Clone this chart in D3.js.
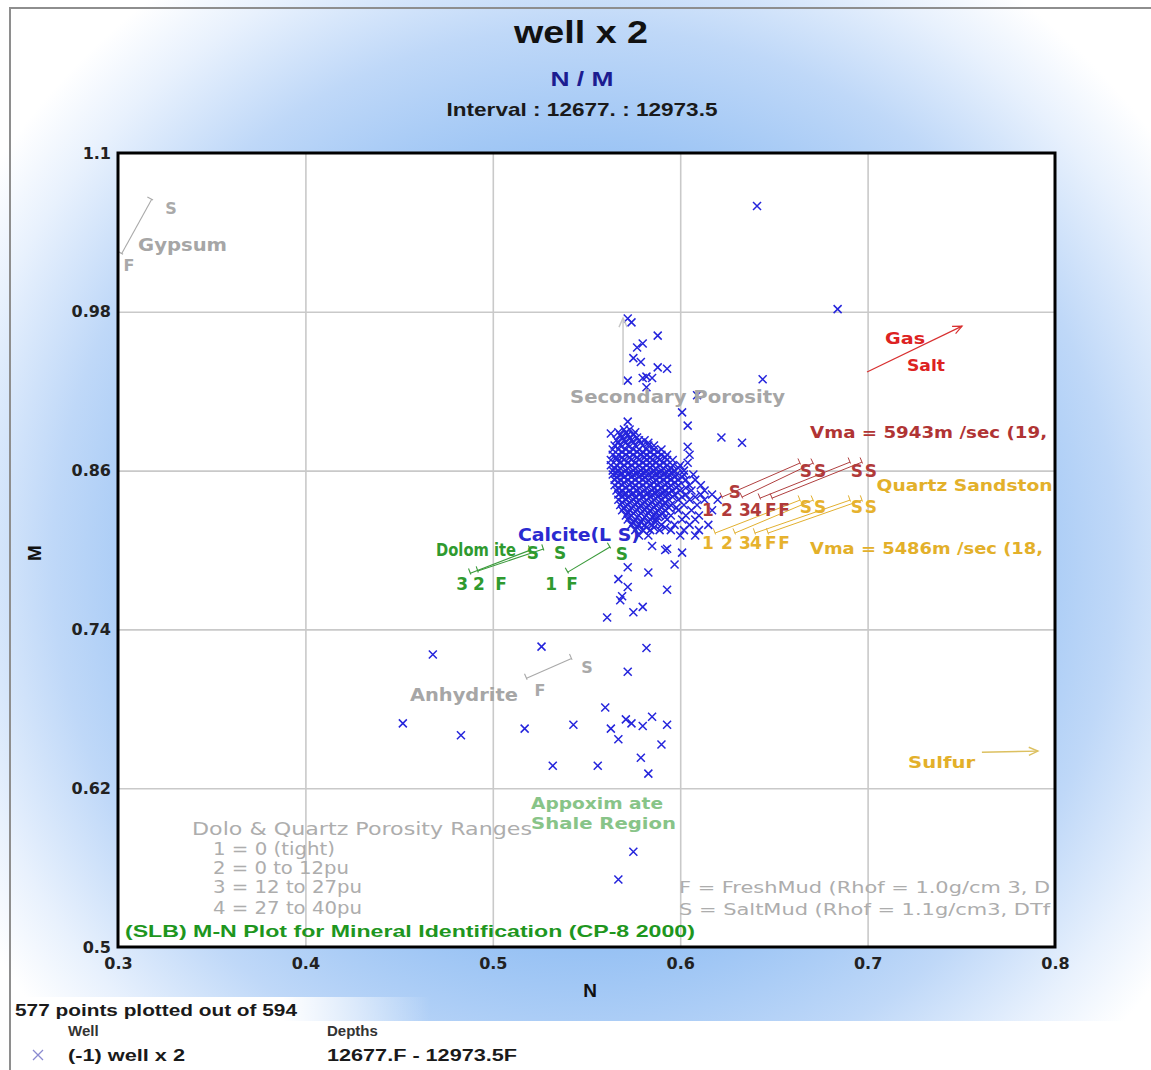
<!DOCTYPE html>
<html>
<head>
<meta charset="utf-8">
<script src="https://cdn.jsdelivr.net/npm/d3@7"></script>
<style>
  html, body { margin: 0; padding: 0; background: #ffffff; }
  svg { display: block; }
</style>
</head>
<body>
<svg id="chart" width="1151" height="1070"></svg>
<script>
// ---------------- data ----------------
const xTicks = [0.3, 0.4, 0.5, 0.6, 0.7, 0.8];
const yTicks = [0.5, 0.62, 0.74, 0.86, 0.98, 1.1];
const xTickLabels = ["0.3", "0.4", "0.5", "0.6", "0.7", "0.8"];
const yTickLabels = ["0.5", "0.62", "0.74", "0.86", "0.98", "1.1"];

// Well x 2 samples, [N, M] — scattered readings
const scatterPoints = [
  [0.641, 1.060], [0.684, 0.982], [0.644, 0.929], [0.572, 0.975], [0.574, 0.972],
  [0.588, 0.962], [0.580, 0.956], [0.577, 0.953], [0.575, 0.945], [0.579, 0.942],
  [0.588, 0.938], [0.593, 0.937], [0.582, 0.931], [0.585, 0.930], [0.580, 0.930],
  [0.572, 0.928], [0.582, 0.923], [0.609, 0.917], [0.601, 0.904], [0.604, 0.894],
  [0.622, 0.885], [0.633, 0.881], [0.563, 0.888], [0.572, 0.897], [0.604, 0.878],
  [0.605, 0.872], [0.604, 0.866],
  [0.592, 0.800], [0.601, 0.798], [0.597, 0.789], [0.572, 0.787], [0.583, 0.783],
  [0.567, 0.778], [0.572, 0.772], [0.593, 0.770], [0.569, 0.765], [0.568, 0.762],
  [0.580, 0.757], [0.575, 0.753], [0.561, 0.749], [0.582, 0.726], [0.572, 0.708],
  [0.468, 0.721], [0.452, 0.669], [0.483, 0.660], [0.526, 0.727], [0.560, 0.681],
  [0.517, 0.665], [0.543, 0.668], [0.571, 0.672], [0.574, 0.669], [0.580, 0.667],
  [0.585, 0.674], [0.593, 0.668], [0.563, 0.665], [0.567, 0.657], [0.590, 0.653],
  [0.532, 0.637], [0.556, 0.637], [0.579, 0.643], [0.583, 0.631], [0.575, 0.572],
  [0.567, 0.551], [0.593, 0.801], [0.585, 0.803]
];

// Dense limestone cluster, listed row by row: [M, [N values]]
const clusterRows = [
  [0.891, [0.570, 0.573]],
  [0.889, [0.567, 0.571, 0.576]],
  [0.887, [0.568, 0.572, 0.575]],
  [0.885, [0.569, 0.573, 0.577]],
  [0.883, [0.566, 0.570, 0.574, 0.578, 0.581]],
  [0.881, [0.567, 0.571, 0.575, 0.579, 0.583]],
  [0.879, [0.565, 0.568, 0.572, 0.576, 0.580, 0.583, 0.586]],
  [0.876, [0.564, 0.567, 0.571, 0.575, 0.578, 0.582, 0.586, 0.590]],
  [0.874, [0.569, 0.573, 0.577, 0.580, 0.584, 0.588]],
  [0.872, [0.564, 0.567, 0.571, 0.575, 0.579, 0.582, 0.586, 0.590, 0.593]],
  [0.870, [0.566, 0.569, 0.573, 0.577, 0.581, 0.584, 0.588, 0.592]],
  [0.868, [0.563, 0.566, 0.570, 0.574, 0.578, 0.582, 0.585, 0.589, 0.593, 0.596]],
  [0.866, [0.568, 0.572, 0.576, 0.580, 0.584, 0.587, 0.591]],
  [0.864, [0.563, 0.566, 0.570, 0.574, 0.578, 0.582, 0.585, 0.589, 0.593, 0.596, 0.600]],
  [0.862, [0.565, 0.568, 0.572, 0.576, 0.580, 0.584, 0.587, 0.591, 0.595, 0.599]],
  [0.860, [0.564, 0.567, 0.571, 0.575, 0.579, 0.582, 0.586, 0.590, 0.594, 0.597, 0.602]],
  [0.858, [0.566, 0.569, 0.573, 0.577, 0.581, 0.585, 0.589, 0.592, 0.596]],
  [0.857, [0.564, 0.568, 0.572, 0.575, 0.579, 0.583, 0.587, 0.591, 0.594, 0.598, 0.602, 0.607]],
  [0.855, [0.566, 0.570, 0.574, 0.578, 0.581, 0.585, 0.589, 0.593, 0.597, 0.601]],
  [0.853, [0.565, 0.568, 0.572, 0.576, 0.580, 0.583, 0.587, 0.591, 0.595, 0.599, 0.603, 0.608]],
  [0.851, [0.567, 0.570, 0.574, 0.578, 0.582, 0.586, 0.589, 0.593, 0.597]],
  [0.849, [0.565, 0.569, 0.573, 0.576, 0.580, 0.584, 0.588, 0.592, 0.595, 0.599, 0.605, 0.611]],
  [0.847, [0.567, 0.571, 0.575, 0.578, 0.582, 0.586, 0.590, 0.594, 0.598, 0.603]],
  [0.845, [0.566, 0.569, 0.573, 0.577, 0.581, 0.585, 0.588, 0.592, 0.596, 0.600, 0.606, 0.613]],
  [0.843, [0.568, 0.571, 0.575, 0.579, 0.583, 0.587, 0.591, 0.594]],
  [0.842, [0.567, 0.570, 0.574, 0.578, 0.582, 0.585, 0.589, 0.593, 0.597, 0.603, 0.611, 0.617]],
  [0.840, [0.569, 0.572, 0.576, 0.580, 0.584, 0.588, 0.592, 0.596, 0.601, 0.608]],
  [0.838, [0.567, 0.571, 0.575, 0.578, 0.582, 0.586, 0.590, 0.594, 0.599, 0.605, 0.613, 0.620]],
  [0.836, [0.569, 0.573, 0.577, 0.581, 0.585, 0.589, 0.592]],
  [0.834, [0.568, 0.572, 0.576, 0.579, 0.583, 0.587, 0.591, 0.595, 0.602, 0.609]],
  [0.832, [0.570, 0.574, 0.578, 0.582, 0.586, 0.590, 0.594, 0.598]],
  [0.830, [0.569, 0.573, 0.577, 0.581, 0.584, 0.588, 0.592, 0.599, 0.606, 0.617]],
  [0.828, [0.572, 0.575, 0.579, 0.583, 0.587, 0.591]],
  [0.826, [0.571, 0.574, 0.578, 0.582, 0.586, 0.589, 0.595, 0.603, 0.610]],
  [0.825, [0.573, 0.577, 0.581, 0.585, 0.588, 0.592]],
  [0.823, [0.572, 0.576, 0.580, 0.584, 0.587, 0.593, 0.601, 0.608]],
  [0.821, [0.575, 0.579, 0.583, 0.587]],
  [0.819, [0.574, 0.578, 0.581, 0.585, 0.590, 0.597, 0.605, 0.615]],
  [0.817, [0.577, 0.582, 0.586, 0.592]],
  [0.815, [0.576, 0.580, 0.584, 0.589, 0.595, 0.602, 0.610]],
  [0.811, [0.578, 0.583, 0.600, 0.608]]
];

// Mineral reference lines, [N1, M1, N2, M2] (fresh-mud end -> salt-mud end)
const gypsumLines = [[0.302, 1.024, 0.318, 1.065]];
const anhydriteLines = [[0.518, 0.703, 0.542, 0.718]];
const dolomiteLines = [
  [0.488, 0.7825, 0.520, 0.7999],
  [0.492, 0.7841, 0.527, 0.8007],
  [0.540, 0.7833, 0.5625, 0.8022]
];
const sandstone5943Lines = [
  [0.6223, 0.8400, 0.6639, 0.8657],
  [0.6330, 0.8400, 0.6709, 0.8657],
  [0.6426, 0.8392, 0.6906, 0.8664],
  [0.6490, 0.8392, 0.6970, 0.8664]
];
const sandstone5486Lines = [
  [0.6186, 0.8128, 0.6639, 0.8377],
  [0.6292, 0.8128, 0.6709, 0.8377],
  [0.6399, 0.8128, 0.6906, 0.8377],
  [0.6469, 0.8128, 0.6970, 0.8377]
];
const secondaryPorosityArrow = [[0.5695, 0.9246, 0.5695, 0.9753]];
const gasSaltArrow = [[0.6997, 0.9345, 0.7504, 0.9692]];
const sulfurArrow = [[0.7610, 0.6472, 0.7909, 0.6480]];

// End labels, [N, M, text]
const gypsumMarks = [[0.3283, 1.0584, "S"], [0.3059, 1.0153, "F"]];
const anhydriteMarks = [[0.5252, 0.6941, "F"], [0.5503, 0.7115, "S"]];
const dolomiteMarks = [
  [0.5214, 0.7977, "S"], [0.5359, 0.7977, "S"], [0.5689, 0.7972, "S"],
  [0.4836, 0.7742, "3"], [0.4926, 0.7742, "2"], [0.5044, 0.7742, "F"],
  [0.5311, 0.7742, "1"], [0.5423, 0.7742, "F"]
];
const sandstone5943Marks = [
  [0.6292, 0.8440, "S"],
  [0.6148, 0.8302, "1"], [0.6249, 0.8302, "2"], [0.6346, 0.8302, "3"],
  [0.6404, 0.8302, "4"], [0.6484, 0.8302, "F"], [0.6554, 0.8302, "F"],
  [0.6671, 0.8595, "S"], [0.6746, 0.8595, "S"], [0.6943, 0.8595, "S"], [0.7018, 0.8595, "S"]
];
const sandstone5486Marks = [
  [0.6148, 0.8052, "1"], [0.6249, 0.8052, "2"], [0.6346, 0.8052, "3"],
  [0.6404, 0.8052, "4"], [0.6484, 0.8052, "F"], [0.6554, 0.8052, "F"],
  [0.6671, 0.8324, "S"], [0.6746, 0.8324, "S"], [0.6943, 0.8324, "S"], [0.7018, 0.8324, "S"]
];

// Region / mineral names, [N, M, text] (left-aligned)
const grayNames = [
  [0.3107, 1.0305, "Gypsum"],
  [0.4558, 0.6903, "Anhydrite"],
  [0.5412, 0.9156, "Secondary Porosity"]
];
const redNames = [[0.7093, 0.9602, "Gas"], [0.7210, 0.9398, "Salt"]];
const darkRedNames = [[0.6693, 0.8891, "Vma = 5943m /sec (19,"]];
const goldNames = [
  [0.7048, 0.8488, "Quartz Sandston"],
  [0.6693, 0.8014, "Vma = 5486m /sec (18,"],
  [0.7216, 0.6397, "Sulfur"]
];
const blueNames = [[0.5134, 0.8118, "Calcite(L S)"]];
const greenNames = [[0.4697, 0.7999, "Dolom ite"]];
const shaleNames = [[0.5204, 0.6087, "Appoxim ate"], [0.5204, 0.5936, "Shale Region"]];
const rangeNotes = [
  [0.3395, 0.5890, "Dolo & Quartz Porosity Ranges"],
  [0.3507, 0.5739, "1 = 0 (tight)"],
  [0.3507, 0.5596, "2 = 0 to 12pu"],
  [0.3507, 0.5452, "3 = 12 to 27pu"],
  [0.3507, 0.5293, "4 = 27 to 40pu"]
];
const mudNotes = [
  [0.5994, 0.5452, "F = FreshMud (Rhof = 1.0g/cm 3, D"],
  [0.5994, 0.5286, "S = SaltMud (Rhof = 1.1g/cm3, DTf"]
];
const sourceNote = [[0.3037, 0.5119, "(SLB) M-N Plot for Mineral Identification (CP-8 2000)"]];

const titleText = "well x 2";
const subtitleText = "N / M";
const intervalText = "Interval : 12677. : 12973.5";
const countText = "577 points plotted out of 594";
const legendHeaders = ["Well", "Depths"];
const legendRow = ["(-1) well x 2", "12677.F - 12973.5F"];

// ---------------- layout & styles ----------------
const W = 1151, H = 1070;
const plot = { left: 118, right: 1055, top: 153, bottom: 947 };
const annoFont = "'DejaVu Sans', Verdana, sans-serif";
const headFont = "'Liberation Sans', Arial, sans-serif";
const narrowFont = "'Liberation Sans Narrow', 'Liberation Sans', Arial, sans-serif";

// drawn widths of the longer labels, px
const labelWidth = {
  "Gypsum": 89, "Anhydrite": 108, "Secondary Porosity": 215,
  "Gas": 40, "Salt": 38,
  "Vma = 5943m /sec (19,": 237, "Quartz Sandston": 176, "Vma = 5486m /sec (18,": 233,
  "Sulfur": 67, "Calcite(L S)": 122, "Dolom ite": 80,
  "Appoxim ate": 132, "Shale Region": 145,
  "Dolo & Quartz Porosity Ranges": 340, "1 = 0 (tight)": 122, "2 = 0 to 12pu": 136,
  "3 = 12 to 27pu": 149, "4 = 27 to 40pu": 149,
  "F = FreshMud (Rhof = 1.0g/cm 3, D": 371, "S = SaltMud (Rhof = 1.1g/cm3, DTf": 371,
  "(SLB) M-N Plot for Mineral Identification (CP-8 2000)": 570
};

const x = d3.scaleLinear().domain([0.3, 0.8]).range([plot.left, plot.right]);
const y = d3.scaleLinear().domain([0.5, 1.1]).range([plot.bottom, plot.top]);

const svg = d3.select("#chart");
const defs = svg.append("defs");

const grad = defs.append("radialGradient")
  .attr("id", "bgGrad").attr("gradientUnits", "userSpaceOnUse")
  .attr("cx", 585).attr("cy", 560).attr("r", 710);
[[0, "#7eb0f0"], [0.55, "#98c2f4"], [0.75, "#bfd8f8"], [0.9, "#e8f1fd"], [1, "#ffffff"]]
  .forEach(([o, c]) => grad.append("stop").attr("offset", o).attr("stop-color", c));

const fade = defs.append("linearGradient").attr("id", "legendFade")
  .attr("gradientUnits", "userSpaceOnUse").attr("x1", 11).attr("x2", 430).attr("y1", 0).attr("y2", 0);
[[0, 1], [0.65, 1], [1, 0]].forEach(([o, a]) =>
  fade.append("stop").attr("offset", o).attr("stop-color", "#ffffff").attr("stop-opacity", a));

defs.append("clipPath").attr("id", "plotClip")
  .append("rect").attr("x", plot.left).attr("y", plot.top)
  .attr("width", plot.right - plot.left).attr("height", plot.bottom - plot.top);

// background
svg.append("rect").attr("width", W).attr("height", H).attr("fill", "url(#bgGrad)");
svg.append("rect").attr("x", 11).attr("y", 997).attr("width", 420).attr("height", 24).attr("fill", "url(#legendFade)");
svg.append("rect").attr("x", 11).attr("y", 1021).attr("width", W).attr("height", 60).attr("fill", "#ffffff");
svg.append("rect").attr("x", 10).attr("y", 8).attr("width", W).attr("height", H)
  .attr("fill", "none").attr("stroke", "#8e8e8e").attr("stroke-width", 2);

// titles
svg.append("text").attr("x", 581).attr("y", 43).attr("text-anchor", "middle")
  .attr("font-family", headFont).attr("font-weight", "bold").attr("font-size", 32)
  .attr("fill", "#111").attr("textLength", 134).attr("lengthAdjust", "spacingAndGlyphs")
  .text(titleText);
svg.append("text").attr("x", 582).attr("y", 86).attr("text-anchor", "middle")
  .attr("font-family", narrowFont).attr("font-weight", "bold").attr("font-size", 20)
  .attr("fill", "#1c1c90").attr("textLength", 63).attr("lengthAdjust", "spacingAndGlyphs")
  .text(subtitleText);
svg.append("text").attr("x", 582).attr("y", 116).attr("text-anchor", "middle")
  .attr("font-family", narrowFont).attr("font-weight", "bold").attr("font-size", 19)
  .attr("fill", "#1a1a1a").attr("textLength", 271).attr("lengthAdjust", "spacingAndGlyphs")
  .text(intervalText);

// plot area
svg.append("rect").attr("x", plot.left).attr("y", plot.top)
  .attr("width", plot.right - plot.left).attr("height", plot.bottom - plot.top)
  .attr("fill", "#ffffff");

// grid
const gridX = svg.append("g").attr("transform", `translate(0,${plot.bottom})`)
  .call(d3.axisBottom(x).tickValues(xTicks.slice(1, -1)).tickSize(-(plot.bottom - plot.top)).tickFormat(""));
const gridY = svg.append("g").attr("transform", `translate(${plot.left},0)`)
  .call(d3.axisLeft(y).tickValues(yTicks.slice(1, -1)).tickSize(-(plot.right - plot.left)).tickFormat(""));
[gridX, gridY].forEach(g => {
  g.select(".domain").remove();
  g.selectAll("line").attr("stroke", "#c9c9c9").attr("stroke-width", 1.6);
});

const layer = svg.append("g").attr("clip-path", "url(#plotClip)");

// scatter points
const allPoints = scatterPoints.slice();
clusterRows.forEach(([m, ns]) => ns.forEach(n => allPoints.push([n, m])));
layer.append("g").selectAll("path").data(allPoints).join("path")
  .attr("transform", d => `translate(${x(d[0])},${y(d[1])})`)
  .attr("d", "M-4,-4L4,4M-4,4L4,-4")
  .attr("fill", "none").attr("stroke", "#2424dc").attr("stroke-width", 1.5);

// reference lines with end ticks / arrowheads
function drawSegments(segs, color, opts) {
  const g = layer.append("g").attr("stroke", color).attr("fill", "none")
    .attr("stroke-width", opts.width || 1.1);
  segs.forEach(s => {
    const x1 = x(s[0]), y1 = y(s[1]), x2 = x(s[2]), y2 = y(s[3]);
    g.append("line").attr("x1", x1).attr("y1", y1).attr("x2", x2).attr("y2", y2);
    const a = Math.atan2(y2 - y1, x2 - x1);
    if (opts.ticks) {
      const px = -Math.sin(a), py = Math.cos(a), L = 5;
      [[x1, y1], [x2, y2]].forEach(([cx, cy]) => {
        g.append("line").attr("x1", cx - px * L).attr("y1", cy - py * L)
          .attr("x2", cx + px * L * 0.3).attr("y2", cy + py * L * 0.3);
      });
    }
    if (opts.arrow) {
      const L = 10, spread = 0.42;
      const p = [a + Math.PI - spread, a + Math.PI + spread]
        .map(b => [x2 + Math.cos(b) * L, y2 + Math.sin(b) * L]);
      g.append("path").attr("d", `M${p[0][0]},${p[0][1]}L${x2},${y2}L${p[1][0]},${p[1][1]}`);
    }
  });
}
drawSegments(gypsumLines, "#a9a9a9", { ticks: true });
drawSegments(anhydriteLines, "#a9a9a9", { ticks: true });
drawSegments(dolomiteLines, "#3a9a3a", { ticks: true });
drawSegments(sandstone5943Lines, "#b04040", { ticks: true, width: 1 });
drawSegments(sandstone5486Lines, "#e2b030", { ticks: true, width: 1 });
drawSegments(secondaryPorosityArrow, "#c6c6c6", { arrow: true, width: 1.4 });
drawSegments(gasSaltArrow, "#d83030", { arrow: true, width: 1.2 });
drawSegments(sulfurArrow, "#dcc060", { arrow: true, width: 1.4 });

// labels
function drawLabels(list, color, opts) {
  const t = layer.append("g").selectAll("text").data(list).join("text")
    .attr("x", d => x(d[0])).attr("y", d => y(d[1])).attr("dy", "0.36em")
    .attr("text-anchor", opts.anchor || "start")
    .attr("font-family", opts.family || annoFont)
    .attr("font-weight", opts.weight || "bold")
    .attr("font-size", opts.size || 16)
    .attr("fill", color)
    .text(d => d[2]);
  t.each(function (d) {
    if (labelWidth[d[2]]) d3.select(this).attr("textLength", labelWidth[d[2]]).attr("lengthAdjust", "spacingAndGlyphs");
  });
}
drawLabels(gypsumMarks, "#a9a9a9", { anchor: "middle", size: 16 });
drawLabels(anhydriteMarks, "#a9a9a9", { anchor: "middle", size: 16 });
drawLabels(dolomiteMarks, "#2f9a2f", { anchor: "middle", size: 17 });
drawLabels(sandstone5943Marks, "#b03a3a", { anchor: "middle", size: 17 });
drawLabels(sandstone5486Marks, "#e6b22e", { anchor: "middle", size: 17 });
drawLabels(grayNames, "#a6a6a6", { size: 17 });
drawLabels(redNames, "#dd2222", { size: 16 });
drawLabels(darkRedNames, "#b03434", { size: 16 });
drawLabels(goldNames, "#e3b02a", { size: 16 });
drawLabels(blueNames, "#2a2ad0", { size: 17 });
drawLabels(greenNames, "#2f9a2f", { size: 17 });
drawLabels(shaleNames, "#88c488", { size: 16 });
drawLabels(rangeNotes, "#adadad", { size: 17, weight: "normal" });
drawLabels(mudNotes, "#adadad", { size: 16, weight: "normal" });
drawLabels(sourceNote, "#1e961e", { size: 17, family: "'Liberation Sans', Arial, sans-serif" });

// plot frame
svg.append("rect").attr("x", plot.left).attr("y", plot.top)
  .attr("width", plot.right - plot.left).attr("height", plot.bottom - plot.top)
  .attr("fill", "none").attr("stroke", "#000").attr("stroke-width", 3);

// axes labels
const axX = svg.append("g").attr("transform", `translate(0,${plot.bottom})`)
  .call(d3.axisBottom(x).tickValues(xTicks).tickSize(0).tickPadding(11)
    .tickFormat((d, i) => xTickLabels[i]));
const axY = svg.append("g").attr("transform", `translate(${plot.left - 1},0)`)
  .call(d3.axisLeft(y).tickValues(yTicks).tickSize(0).tickPadding(6)
    .tickFormat((d, i) => yTickLabels[i]));
[axX, axY].forEach(g => {
  g.select(".domain").remove();
  g.selectAll("text").attr("font-family", annoFont).attr("font-weight", "bold")
    .attr("font-size", 16).attr("fill", "#222");
});

svg.append("text").attr("x", 590).attr("y", 997).attr("text-anchor", "middle")
  .attr("font-family", headFont).attr("font-weight", "bold").attr("font-size", 19)
  .attr("fill", "#111").text("N");
svg.append("text").attr("transform", "translate(41,553) rotate(-90)").attr("text-anchor", "middle")
  .attr("font-family", headFont).attr("font-weight", "bold").attr("font-size", 19)
  .attr("fill", "#111").text("M");

// legend
svg.append("text").attr("x", 15).attr("y", 1016)
  .attr("font-family", headFont).attr("font-weight", "bold").attr("font-size", 17)
  .attr("fill", "#1a1a1a").attr("textLength", 282).attr("lengthAdjust", "spacingAndGlyphs")
  .text(countText);
svg.append("text").attr("x", 68).attr("y", 1036)
  .attr("font-family", headFont).attr("font-weight", "bold").attr("font-size", 15)
  .attr("fill", "#333").text(legendHeaders[0]);
svg.append("text").attr("x", 327).attr("y", 1036)
  .attr("font-family", headFont).attr("font-weight", "bold").attr("font-size", 15)
  .attr("fill", "#333").text(legendHeaders[1]);
svg.append("path").attr("transform", "translate(38,1055)")
  .attr("d", "M-5,-5L5,5M-5,5L5,-5").attr("stroke", "#8a8ad0").attr("stroke-width", 1.3);
svg.append("text").attr("x", 68).attr("y", 1061)
  .attr("font-family", headFont).attr("font-weight", "bold").attr("font-size", 16)
  .attr("fill", "#1a1a1a").attr("textLength", 117).attr("lengthAdjust", "spacingAndGlyphs")
  .text(legendRow[0]);
svg.append("text").attr("x", 327).attr("y", 1061)
  .attr("font-family", headFont).attr("font-weight", "bold").attr("font-size", 16)
  .attr("fill", "#1a1a1a").attr("textLength", 190).attr("lengthAdjust", "spacingAndGlyphs")
  .text(legendRow[1]);
</script>
</body>
</html>
